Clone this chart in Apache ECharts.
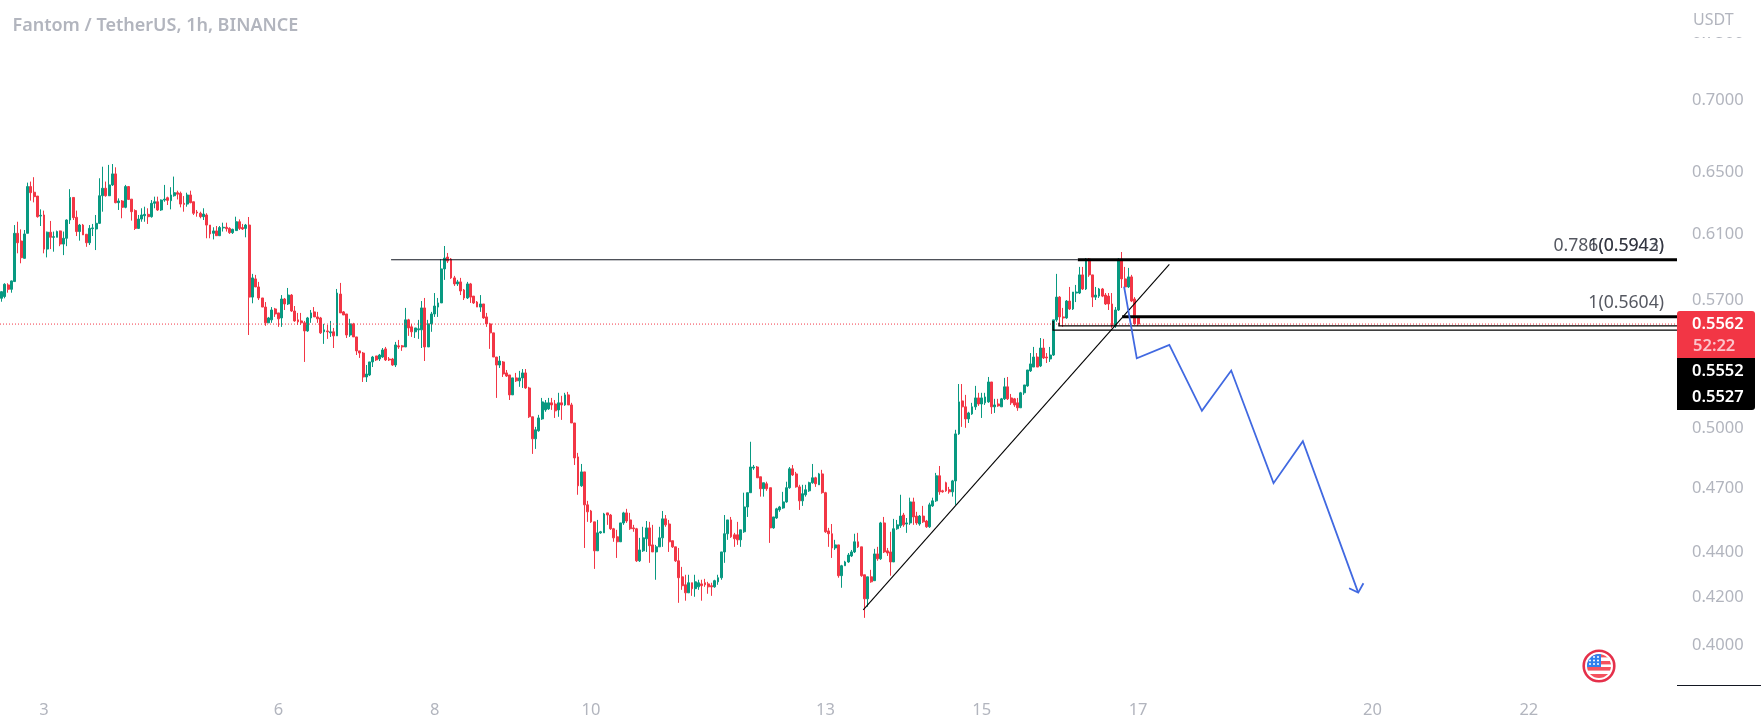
<!DOCTYPE html>
<html><head><meta charset="utf-8">
<style>html,body{margin:0;padding:0;background:#fff}#c{width:1761px;height:728px}</style>
<script src="https://cdn.jsdelivr.net/npm/echarts@6/dist/echarts.min.js"></script>
</head><body><div id="c"></div>
<script>
// Hourly candles, each row: open, close, low, high
const candlesA=[
[.5711,.5750,.5691,.5752],[.5721,.5794,.5711,.5800],[.5790,.5764,.5744,.5800],[.5764,.5814,.5744,.5816],[.5810,.6105,.5810,.6157],[.6105,.6046,.5981,.6178],[.6057,.5954,.5920,.6130],[.5950,.6101,.5950,.6126],[.6105,.6405,.6105,.6431],[.6405,.6365,.6313,.6438],
[.6368,.6339,.6302,.6467],[.6343,.6210,.6204,.6343],[.6214,.6219,.6151,.6257],[.6221,.6007,.5981,.6249],[.6007,.6112,.5956,.6116],[.6112,.6080,.6007,.6183],[.6080,.6084,.5991,.6116],[.6080,.6116,.6080,.6122],[.6120,.6038,.6025,.6122],[.6038,.6074,.5970,.6116],
[.6074,.6189,.6025,.6193],[.6189,.6334,.6164,.6388],[.6334,.6204,.6189,.6334],[.6206,.6116,.6088,.6249],[.6116,.6157,.6059,.6164],[.6157,.6095,.6095,.6164],[.6099,.6046,.6021,.6101],[.6046,.6136,.6032,.6157],[.6134,.6139,.6088,.6164],[.6132,.6168,.6001,.6221],
[.6168,.6345,.6164,.6460],[.6345,.6394,.6242,.6537],[.6394,.6345,.6339,.6438],[.6345,.6416,.6343,.6549],[.6416,.6489,.6409,.6555],[.6489,.6300,.6296,.6533],[.6300,.6311,.6253,.6328],[.6311,.6270,.6200,.6317],[.6270,.6405,.6264,.6416],[.6405,.6321,.6317,.6409],
[.6323,.6242,.6185,.6323],[.6249,.6136,.6126,.6257],[.6136,.6195,.6132,.6221],[.6195,.6221,.6178,.6264],[.6216,.6225,.6178,.6274],[.6225,.6210,.6164,.6264],[.6210,.6296,.6204,.6317],[.6296,.6306,.6264,.6339],[.6306,.6253,.6247,.6339],[.6253,.6317,.6247,.6321],
[.6317,.6323,.6306,.6416],[.6332,.6315,.6285,.6339],[.6313,.6350,.6257,.6401],[.6345,.6365,.6339,.6471],[.6365,.6355,.6321,.6378],[.6361,.6291,.6270,.6372],[.6296,.6289,.6242,.6343],[.6291,.6350,.6274,.6365],[.6350,.6300,.6296,.6378],[.6306,.6232,.6221,.6306],
[.6240,.6234,.6210,.6253],[.6232,.6210,.6200,.6242],[.6210,.6227,.6189,.6264],[.6221,.6157,.6074,.6232],[.6157,.6101,.6074,.6157],[.6105,.6120,.6067,.6143],[.6120,.6090,.6090,.6151],[.6090,.6141,.6088,.6151],[.6139,.6143,.6116,.6172],[.6143,.6134,.6116,.6172],
[.6136,.6109,.6101,.6143],[.6109,.6130,.6101,.6134],[.6122,.6178,.6122,.6210],[.6178,.6136,.6126,.6193],[.6141,.6132,.6126,.6164],[.6136,.6157,.6080,.6164],[.6157,.5718,.5500,.6208]];
const candlesB=[
[.5718,.5832,.5682,.5856],[.5826,.5778,.5778,.5850],[.5778,.5713,.5701,.5808],[.5713,.5660,.5660,.5713],[.5660,.5569,.5552,.5689],[.5569,.5597,.5569,.5603],[.5586,.5643,.5569,.5660],[.5649,.5620,.5603,.5655],[.5626,.5592,.5546,.5626],[.5597,.5707,.5546,.5730],
[.5707,.5678,.5643,.5713],[.5678,.5730,.5672,.5772],[.5730,.5637,.5632,.5736],[.5637,.5580,.5575,.5666],[.5586,.5575,.5557,.5626],[.5580,.5569,.5557,.5626],[.5569,.5523,.5350,.5580],[.5523,.5597,.5518,.5603],[.5597,.5626,.5569,.5643],[.5632,.5603,.5603,.5660],
[.5603,.5592,.5569,.5632],[.5597,.5512,.5506,.5603],[.5518,.5529,.5450,.5563],[.5523,.5518,.5478,.5557],[.5512,.5518,.5489,.5580],[.5518,.5495,.5427,.5540],[.5495,.5742,.5495,.5766],[.5736,.5626,.5626,.5802],[.5632,.5614,.5614,.5637],[.5620,.5500,.5483,.5620],
[.5500,.5563,.5489,.5592],[.5563,.5489,.5489,.5569],[.5489,.5411,.5388,.5489],[.5411,.5399,.5372,.5411],[.5399,.5268,.5241,.5405],[.5268,.5284,.5241,.5333],[.5279,.5350,.5273,.5350],[.5350,.5377,.5322,.5383],[.5383,.5361,.5355,.5383],[.5366,.5388,.5355,.5394],
[.5377,.5416,.5372,.5427],[.5422,.5361,.5355,.5433],[.5366,.5361,.5355,.5377],[.5366,.5333,.5328,.5372],[.5333,.5444,.5322,.5461],[.5439,.5433,.5422,.5472],[.5439,.5433,.5411,.5444],[.5433,.5586,.5433,.5655],[.5586,.5540,.5495,.5592],[.5546,.5518,.5489,.5563],
[.5518,.5540,.5483,.5540],[.5529,.5535,.5478,.5586],[.5529,.5655,.5427,.5695],[.5655,.5433,.5355,.5713],[.5433,.5563,.5433,.5586],[.5563,.5620,.5518,.5632],[.5620,.5666,.5603,.5742],[.5660,.5684,.5603,.5713],[.5684,.5886,.5684,.5946],[.5886,.5952,.5820,.6026],
[.5958,.5934,.5922,.5983],[.5946,.5832,.5826,.5952],[.5832,.5796,.5784,.5844],[.5796,.5808,.5784,.5820],[.5808,.5754,.5730,.5832],[.5760,.5713,.5701,.5766],[.5713,.5796,.5707,.5808],[.5796,.5718,.5684,.5802],[.5724,.5684,.5678,.5724],[.5689,.5660,.5660,.5695],
[.5660,.5678,.5632,.5730],[.5678,.5597,.5592,.5678],[.5603,.5563,.5546,.5626],[.5563,.5512,.5422,.5569],[.5512,.5377,.5377,.5512]];
const candlesC=[
[.5377,.5333,.5156,.5377],[.5333,.5355,.5317,.5383],[.5350,.5284,.5268,.5355],[.5290,.5273,.5268,.5306],[.5279,.5172,.5145,.5279],[.5172,.5263,.5172,.5263],[.5263,.5247,.5241,.5290],[.5247,.5263,.5215,.5301],[.5263,.5290,.5209,.5311],[.5290,.5209,.5204,.5311],
[.5209,.5057,.5051,.5215],[.5057,.4944,.4868,.5057],[.4944,.4990,.4893,.5005],[.4985,.5051,.4980,.5067],[.5046,.5135,.5041,.5156],[.5093,.5130,.5083,.5145],[.5098,.5130,.5093,.5156],[.5130,.5119,.5093,.5156],[.5124,.5088,.5051,.5145],[.5093,.5130,.5057,.5183],
[.5130,.5119,.5041,.5167],[.5119,.5172,.5114,.5183],[.5172,.5119,.5119,.5188],[.5119,.5025,.5025,.5130],[.5025,.4848,.4813,.5025],[.4853,.4711,.4668,.4873],[.4711,.4779,.4706,.4818],[.4779,.4620,.4420,.4779],[.4620,.4587,.4540,.4639],[.4591,.4540,.4535,.4596],
[.4540,.4407,.4326,.4540],[.4407,.4489,.4407,.4549],[.4489,.4494,.4485,.4498],[.4489,.4577,.4489,.4582],[.4582,.4572,.4526,.4582],[.4572,.4508,.4503,.4577],[.4508,.4466,.4448,.4512],[.4471,.4448,.4375,.4503],[.4448,.4535,.4448,.4535],[.4535,.4582,.4526,.4587],
[.4582,.4544,.4535,.4601],[.4549,.4508,.4503,.4582],[.4512,.4508,.4494,.4526],[.4508,.4362,.4357,.4512],[.4362,.4411,.4357,.4466],[.4407,.4466,.4402,.4517],[.4462,.4512,.4402,.4544],[.4512,.4430,.4353,.4540],[.4434,.4402,.4402,.4526],[.4402,.4425,.4278,.4434],
[.4425,.4466,.4425,.4517],[.4466,.4554,.4425,.4591],[.4554,.4526,.4517,.4572],[.4530,.4448,.4402,.4549],[.4453,.4425,.4420,.4453],[.4425,.4362,.4357,.4425],[.4362,.4287,.4178,.4420],[.4291,.4252,.4234,.4335],[.4256,.4221,.4187,.4300],[.4221,.4265,.4221,.4300],
[.4265,.4239,.4208,.4265],[.4239,.4269,.4204,.4300],[.4247,.4265,.4234,.4278],[.4260,.4252,.4187,.4278],[.4265,.4256,.4247,.4282],[.4260,.4247,.4217,.4269],[.4252,.4247,.4208,.4265],[.4247,.4274,.4243,.4278],[.4269,.4287,.4256,.4300],[.4287,.4402,.4278,.4402],
[.4402,.4485,.4353,.4572],[.4485,.4549,.4457,.4549],[.4549,.4471,.4466,.4563],[.4480,.4462,.4425,.4489],[.4480,.4457,.4434,.4540],[.4457,.4503,.4425,.4503],[.4494,.4610,.4489,.4678],[.4610,.4678,.4563,.4678],[.4678,.4803,.4678,.4929],[.4798,.4803,.4789,.4813],
[.4803,.4750,.4750,.4808],[.4755,.4697,.4659,.4755],[.4697,.4726,.4659,.4726],[.4721,.4697,.4687,.4731],[.4702,.4512,.4443,.4702],[.4512,.4563,.4508,.4563],[.4558,.4601,.4554,.4606],[.4596,.4610,.4587,.4615],[.4605,.4634,.4601,.4682],[.4634,.4702,.4630,.4731],
[.4702,.4794,.4697,.4803],[.4794,.4764,.4759,.4813],[.4769,.4706,.4702,.4779],[.4706,.4639,.4596,.4716],[.4639,.4673,.4615,.4716],[.4668,.4692,.4659,.4716],[.4687,.4726,.4682,.4731],[.4726,.4750,.4721,.4818],[.4750,.4721,.4706,.4755],[.4716,.4769,.4716,.4774],
[.4769,.4678,.4673,.4789],[.4678,.4494,.4489,.4682],[.4498,.4485,.4425,.4512],[.4485,.4420,.4375,.4530],[.4420,.4434,.4411,.4457],[.4434,.4296,.4287,.4434],[.4296,.4340,.4243,.4344],[.4340,.4357,.4340,.4362],[.4357,.4388,.4353,.4397],[.4384,.4402,.4379,.4411],
[.4402,.4448,.4397,.4485],[.4448,.4425,.4420,.4489],[.4425,.4296,.4291,.4425],[.4300,.4195,.4114,.4300],[.4195,.4291,.4161,.4291],[.4291,.4269,.4265,.4322],[.4274,.4393,.4274,.4416],[.4393,.4371,.4362,.4425],[.4371,.4535,.4366,.4540],[.4535,.4402,.4397,.4563],
[.4407,.4397,.4384,.4420],[.4402,.4357,.4296,.4494],[.4357,.4508,.4357,.4554],[.4508,.4526,.4503,.4549]];
const candlesD=[
[.4522,.4567,.4512,.4668],[.4572,.4526,.4517,.4582],[.4530,.4535,.4489,.4558],[.4535,.4634,.4526,.4654],[.4634,.4563,.4526,.4654],[.4567,.4535,.4526,.4587],[.4530,.4567,.4522,.4572],[.4567,.4540,.4535,.4615],[.4544,.4517,.4512,.4549],[.4517,.4620,.4512,.4630],
[.4615,.4639,.4610,.4654],[.4639,.4760,.4634,.4774],[.4760,.4682,.4668,.4808],[.4687,.4682,.4678,.4692],[.4726,.4687,.4682,.4731],[.4692,.4682,.4673,.4706],[.4682,.4735,.4659,.4740],[.4735,.4969,.4620,.4990],[.4969,.5135,.4964,.5230],[.5140,.5109,.5005,.5230],
[.5109,.5046,.5000,.5172],[.5046,.5077,.5025,.5083],[.5072,.5109,.5067,.5130],[.5109,.5156,.5093,.5220],[.5156,.5124,.5114,.5183],[.5124,.5156,.5051,.5183],[.5130,.5161,.5119,.5183],[.5135,.5241,.5130,.5268],[.5241,.5109,.5072,.5241],[.5109,.5119,.5077,.5151],
[.5124,.5114,.5109,.5151],[.5109,.5151,.5109,.5156],[.5151,.5215,.5145,.5263],[.5215,.5151,.5145,.5268],[.5156,.5130,.5119,.5177],[.5151,.5119,.5109,.5156],[.5130,.5104,.5088,.5156],[.5104,.5183,.5104,.5188],[.5183,.5225,.5172,.5225],[.5220,.5306,.5215,.5306],
[.5301,.5339,.5295,.5399],[.5322,.5377,.5322,.5433],[.5377,.5322,.5322,.5399],[.5328,.5427,.5322,.5483],[.5427,.5372,.5366,.5478],[.5377,.5372,.5344,.5399],[.5366,.5388,.5350,.5433],[.5388,.5586,.5383,.5586],[.5586,.5718,.5575,.5856],[.5718,.5603,.5557,.5724],
[.5603,.5597,.5546,.5655],[.5597,.5695,.5592,.5701],[.5695,.5649,.5643,.5778],[.5649,.5748,.5643,.5748],[.5742,.5748,.5689,.5790],[.5742,.5850,.5736,.5898],[.5850,.5766,.5760,.5898],[.5766,.5946,.5760,.5952],[.5946,.5850,.5838,.5952],[.5850,.5718,.5660,.5850],
[.5718,.5730,.5701,.5778],[.5724,.5766,.5713,.5772],[.5766,.5724,.5718,.5772],[.5730,.5678,.5672,.5742],[.5724,.5678,.5643,.5742],[.5678,.5552,.5540,.5742],[.5552,.5643,.5540,.5660],[.5643,.5946,.5637,.5952],[.5946,.5826,.5772,.5989],[.5826,.5778,.5760,.5898],
[.5778,.5838,.5772,.5892],[.5838,.5695,.5689,.5850],[.5707,.5563,.5557,.5718],[.5603,.5562,.5552,.5603]];

// Axis labels
const dayLabels=['3','6','8','10','13','15','17','20','22'];
const dayHours=[13,85,133,181,253,301,349,421,469];
const priceTicks=[0.75,0.70,0.65,0.61,0.57,0.50,0.47,0.44,0.42,0.40];
const hourCount=515;

// Drawings: hour position, price
const lastPrice=0.5562;
const resistanceThin=[[119.6,0.5942],[330.5,0.5942]];
const fibTop=[[330.5,0.5942],[514.5,0.5942]];
const fibMid=[[344.1,0.5604],[514.5,0.5604]];
const boxUpper=[[324.7,0.5569],[324.7,0.5552],[514.5,0.5552]];
const boxLower=[[322.9,0.5580],[322.9,0.5527],[514.5,0.5527]];
const trendLine=[[264.6,0.4148],[358.6,0.5914]];
const forecastPath=[[344.7,0.5780],[348.6,0.5370],[358.6,0.5444],[368.6,0.5088],[377.6,0.5303],[390.6,0.4724],[399.6,0.4932],[416.6,0.4222]];
const forecastArrow=[[413.8,0.4241],[416.6,0.4222],[418.2,0.4263]];
const fibLabels=[['0.786(0.5942)',510.5,0.5942],['1(0.5943)',510.5,0.5942],['1(0.5604)',510.5,0.5604]];

const candles=[...candlesA,...candlesB,...candlesC,...candlesD];
const categories=Array.from({length:hourCount},(_,h)=>{const k=dayHours.indexOf(h);return k>=0?dayLabels[k]:'h'+h;});

const FONT='"Noto Sans"';
const GREY='#b2b5be';
const thinLine=(data,color,width,type)=>({type:'line',xAxisIndex:1,yAxisIndex:0,data,symbol:'none',silent:true,z:5,
  lineStyle:{color,width,type:type||'solid',cap:'butt',join:'miter'}});
const flagSvg='data:image/svg+xml;utf8,'+encodeURIComponent(
'<svg xmlns="http://www.w3.org/2000/svg" width="34" height="34" viewBox="0 0 34 34"><defs><clipPath id="k"><circle cx="17" cy="17" r="12"/></clipPath></defs>'+
'<circle cx="17" cy="17" r="15.3" fill="#fff" stroke="#e5304a" stroke-width="2.6"/>'+
'<g clip-path="url(#k)"><rect width="34" height="34" fill="#fff"/><rect x="0" y="5" width="34" height="3.4" fill="#f4525f"/><rect x="0" y="12" width="34" height="3.4" fill="#f4525f"/><rect x="0" y="18" width="34" height="3.6" fill="#f4525f"/><rect x="0" y="25" width="34" height="5" fill="#f4525f"/>'+
'<rect x="4" y="4" width="15" height="14" fill="#2f80ed"/>'+
'<g fill="#fff"><circle cx="8" cy="8" r="1"/><circle cx="12" cy="8" r="1"/><circle cx="16" cy="8" r="1"/><circle cx="8" cy="11.5" r="1"/><circle cx="12" cy="11.5" r="1"/><circle cx="16" cy="11.5" r="1"/><circle cx="8" cy="15" r="1"/><circle cx="12" cy="15" r="1"/><circle cx="16" cy="15" r="1"/></g></g></svg>');

const chart=echarts.init(document.getElementById('c'),null,{renderer:'canvas'});
chart.setOption({
  animation:false,backgroundColor:'#ffffff',
  grid:{left:0,right:84,top:0,bottom:43,containLabel:false},
  xAxis:[
    {type:'category',data:categories,boundaryGap:true,axisLine:{show:false},axisTick:{show:false},splitLine:{show:false},
     axisLabel:{interval:(i)=>dayHours.includes(i),margin:17,color:GREY,fontFamily:FONT,fontSize:16.5,hideOverlap:false,showMinLabel:true,showMaxLabel:true}},
    {type:'value',min:-0.5,max:514.5,show:false}
  ],
  yAxis:[{type:'log',logBase:Math.E,min:0.3840,max:0.7757,position:'right',scale:true,
    axisLine:{show:false},axisTick:{show:false},splitLine:{show:false},minorSplitLine:{show:false},
    axisLabel:{customValues:priceTicks,margin:15,color:GREY,fontFamily:FONT,fontSize:16.5,align:'left',padding:[2,0,0,0],
      formatter:(v)=>Number(v).toFixed(4)}}],
  series:[
    thinLine([[-0.5,lastPrice],[514.5,lastPrice]],'#f23645',1,[1,2]),
    {type:'candlestick',xAxisIndex:0,yAxisIndex:0,data:candles,barWidth:2.4,silent:true,z:3,
     itemStyle:{color:'#089981',color0:'#f23645',borderColor:'#089981',borderColor0:'#f23645',borderWidth:1}},
    thinLine(resistanceThin,'#131722',1.1),
    thinLine(fibTop,'#000000',3),
    thinLine(fibMid,'#000000',3),
    thinLine(boxUpper,'#000000',1.3),
    thinLine(boxLower,'#000000',1.3),
    thinLine(trendLine,'#000000',1.1),
    thinLine(forecastPath,'#4169e1',1.8),
    thinLine(forecastArrow,'#4169e1',1.8),
    {type:'scatter',xAxisIndex:1,yAxisIndex:0,symbolSize:0,silent:true,z:6,
     data:fibLabels.map(r=>({name:r[0],value:[r[1],r[2]]})),
     label:{show:true,position:'left',distance:0,offset:[0,-14],formatter:(p)=>p.name,color:'#2a2e39',fontFamily:FONT,fontSize:17.6}}
  ],
  graphic:[
    {type:'text',left:12.5,top:16.5,z:20,style:{text:'Fantom / TetherUS, 1h, BINANCE',fill:GREY,font:'600 18px "Noto Sans"'}},
    {type:'rect',z:20,shape:{x:1677,y:0,width:84,height:37},style:{fill:'#ffffff'}},
    {type:'text',left:1693,top:12,z:21,style:{text:'USDT',fill:GREY,font:'16px "Noto Sans"'}},
    {type:'line',z:20,shape:{x1:1677,y1:685.5,x2:1761,y2:685.5},style:{stroke:'#131722',lineWidth:1}},
    {type:'rect',z:20,shape:{x:1677,y:311,width:78,height:47,r:[3,3,0,0]},style:{fill:'#f23645'}},
    {type:'rect',z:20,shape:{x:1677,y:358,width:78,height:52,r:[0,0,3,0]},style:{fill:'#000000'}},
    {type:'text',left:1692,top:315.5,z:21,style:{text:'0.5562',fill:'#ffffff',font:'600 16.5px "Noto Sans"'}},
    {type:'text',left:1693,top:338,z:21,style:{text:'52:22',fill:'#fbc4cb',font:'600 16.5px "Noto Sans"'}},
    {type:'text',left:1692,top:363,z:21,style:{text:'0.5552',fill:'#ffffff',font:'600 16.5px "Noto Sans"'}},
    {type:'text',left:1692,top:388.5,z:21,style:{text:'0.5527',fill:'#ffffff',font:'600 16.5px "Noto Sans"'}},
    {type:'image',z:20,left:1582,top:649,style:{image:flagSvg,width:34,height:34}}
  ]
});
</script></body></html>
